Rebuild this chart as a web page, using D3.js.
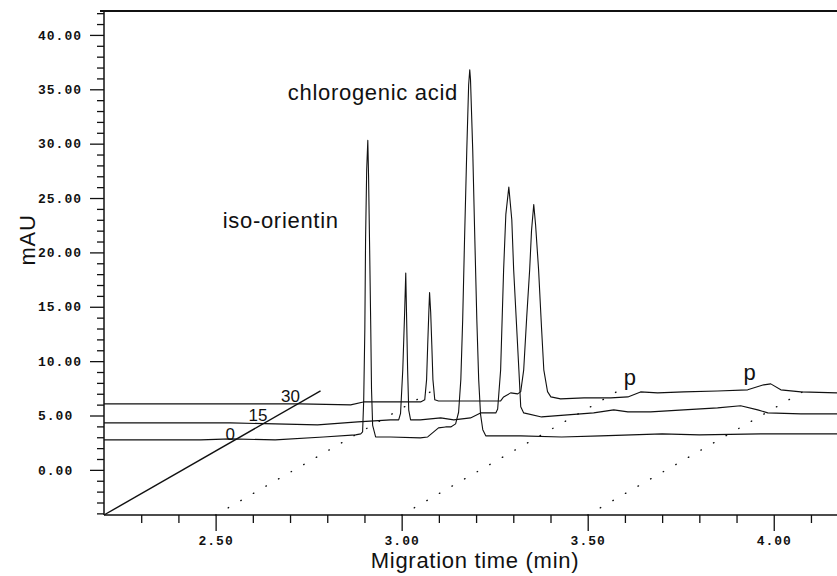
<!DOCTYPE html>
<html>
<head>
<meta charset="utf-8">
<script src="https://cdn.jsdelivr.net/npm/d3@7"></script>
<style>
  body { margin: 0; background: #fff; }
  svg { display: block; }
  .tick text { font-family: "Liberation Mono", "DejaVu Sans Mono", monospace; font-weight: bold; font-size: 13px; letter-spacing: 1px; fill: #111; }
  .tick line { stroke: #111; stroke-width: 1.3; }
  .lbl { font-family: "Liberation Sans", Arial, sans-serif; font-size: 22px; letter-spacing: 0.7px; fill: #111; }
</style>
</head>
<body>
<svg id="chart" width="837" height="576"></svg>
<script>
// axis values
const timeTicks = [2.5, 3.0, 3.5, 4.0];
const mauTicks = [0, 5, 10, 15, 20, 25, 30, 35, 40];
const depthLevels = [0, 15, 30];
const gridTimes = [2.5, 3.0, 3.5];   // dotted oblique grid lines

// electropherograms [time (min), mAU]
const trace0 = [
  [2.20, 2.76], [2.33, 2.76], [2.46, 2.76], [2.54, 2.85], [2.66, 2.76], [2.79, 3.03],
  [2.876, 3.22], [2.890, 3.31], [2.895, 3.49], [2.898, 6.4], [2.901, 12.9], [2.903, 21.2],
  [2.906, 27.6], [2.909, 30.3], [2.911, 27.1], [2.914, 20.2], [2.917, 12.9], [2.919, 7.4],
  [2.922, 4.1], [2.930, 3.03], [2.97, 3.03], [3.05, 2.94], [3.07, 3.03], [3.099, 3.86],
  [3.118, 3.95], [3.132, 3.95], [3.145, 4.23], [3.153, 5.3], [3.159, 8.3], [3.164, 13.8],
  [3.169, 21.2], [3.175, 29.4], [3.180, 35.4], [3.183, 36.8], [3.185, 35.9], [3.191, 29.4],
  [3.196, 22.1], [3.202, 13.8], [3.207, 8.3], [3.212, 5.1], [3.218, 3.7], [3.226, 3.13],
  [3.24, 3.13], [3.32, 3.13], [3.43, 3.03], [3.535, 3.13], [3.70, 3.31], [3.80, 3.22],
  [3.965, 3.31], [4.17, 3.31]
];
const trace15 = [
  [2.20, 4.32], [2.54, 4.32], [2.66, 4.23], [2.774, 4.14], [2.882, 4.41], [2.970, 4.60],
  [2.992, 4.60], [2.997, 5.2], [3.003, 9.2], [3.008, 14.5], [3.011, 18.1], [3.013, 14.5],
  [3.016, 9.2], [3.019, 5.5], [3.024, 4.60], [3.05, 4.60], [3.105, 4.78], [3.14, 4.60],
  [3.185, 4.78], [3.212, 5.24], [3.253, 5.24], [3.258, 5.6], [3.266, 9.2], [3.274, 18.4],
  [3.280, 23.5], [3.288, 26.0], [3.296, 23.0], [3.301, 18.4], [3.315, 9.2], [3.320, 5.8],
  [3.328, 5.24], [3.376, 4.87], [3.446, 5.06], [3.516, 5.24], [3.570, 5.52], [3.608, 5.33],
  [3.669, 5.33], [3.758, 5.52], [3.849, 5.70], [3.911, 5.89], [3.957, 5.52], [3.984, 5.24],
  [4.073, 5.15], [4.17, 5.15]
];
const trace30 = [
  [2.20, 6.07], [2.46, 6.07], [2.728, 6.07], [2.863, 5.98], [2.897, 6.25], [2.970, 6.25],
  [3.051, 6.25], [3.062, 6.44], [3.067, 8.3], [3.070, 11.5], [3.073, 14.5], [3.075, 16.3],
  [3.078, 14.5], [3.081, 11.5], [3.084, 8.3], [3.089, 6.44], [3.099, 6.34], [3.185, 6.34],
  [3.266, 6.34], [3.274, 6.71], [3.293, 7.08], [3.312, 6.99], [3.320, 7.2], [3.328, 9.2],
  [3.336, 14.0], [3.344, 18.4], [3.349, 22.0], [3.355, 24.4], [3.360, 22.5], [3.368, 18.4],
  [3.376, 13.0], [3.382, 9.2], [3.392, 7.2], [3.401, 6.71], [3.427, 6.53], [3.49, 6.62],
  [3.562, 6.62], [3.608, 6.71], [3.642, 7.17], [3.688, 7.08], [3.758, 7.17], [3.849, 7.26],
  [3.930, 7.36], [3.973, 7.82], [3.992, 7.91], [4.019, 7.36], [4.073, 7.17], [4.17, 7.08]
];
const traces = [trace0, trace15, trace30];

// annotations
const peakNames = ["iso-orientin", "chlorogenic acid", "p", "p"];
const peakTimes = [2.519, 2.694, 3.597, 3.919];
const peakLevels = [22.25, 34.0, 7.82, 8.28];

const width = 837, height = 576;
const svg = d3.select("#chart");

const x = d3.scaleLinear().domain([2.2, 4.17]).range([104, 837]);
const y = d3.scaleLinear().domain([-4.15, 42.2]).range([515, 11]);

// oblique (depth) projection: shift in time and mAU per depth
const depthT = d3.scaleLinear().domain([-60, 40]).range([0, 0.582]);
const depthV = d3.scaleLinear().domain([-60, 40]).range([0, 11.41]);
const [t0] = x.domain();
const [v0] = y.domain();

// y axis
const yMinor = d3.range(-4, 43).filter(v => v % 5 !== 0);
svg.append("g").attr("transform", "translate(104,0)")
  .call(d3.axisLeft(y).tickValues(yMinor).tickSize(7).tickFormat(""))
  .call(g => g.select(".domain").remove());
svg.append("g").attr("transform", "translate(104,0)")
  .call(d3.axisLeft(y).tickValues(mauTicks).tickSize(14).tickFormat(d3.format(".2f")))
  .call(g => g.select(".domain").remove())
  .call(g => g.selectAll("text").attr("x", -66).attr("text-anchor", "start"));

// x axis
const xMinor = d3.range(23, 42).map(v => v / 10).filter(v => Math.round(v * 10) % 5 !== 0);
svg.append("g").attr("transform", "translate(0,515)")
  .call(d3.axisBottom(x).tickValues(xMinor).tickSize(8).tickFormat(""))
  .call(g => g.select(".domain").remove());
svg.append("g").attr("transform", "translate(0,515)")
  .call(d3.axisBottom(x).tickValues(timeTicks).tickSize(16).tickFormat(d3.format(".2f")))
  .call(g => g.select(".domain").remove())
  .call(g => g.selectAll("text").attr("y", 30).attr("dy", 0));

// frame
svg.append("line").attr("x1", 100).attr("x2", width).attr("y1", 11).attr("y2", 11)
  .attr("stroke", "#111").attr("stroke-width", 2.2);
svg.append("line").attr("x1", 104).attr("x2", 104).attr("y1", 11).attr("y2", 515)
  .attr("stroke", "#111").attr("stroke-width", 1.5);
svg.append("line").attr("x1", 104).attr("x2", width).attr("y1", 515).attr("y2", 515)
  .attr("stroke", "#111").attr("stroke-width", 1.6);

// dotted oblique grid lines
const [dLo, dHi] = depthT.domain();
svg.selectAll(".grid").data(gridTimes).join("line")
  .attr("class", "grid")
  .attr("x1", t => x(t + depthT(dLo))).attr("y1", y(v0 + depthV(dLo)))
  .attr("x2", t => x(t + depthT(dHi))).attr("y2", y(v0 + depthV(dHi)))
  .attr("stroke", "#111").attr("stroke-width", 1.4)
  .attr("stroke-linecap", "round").attr("stroke-dasharray", "0.5,14");

// depth axis
svg.append("line")
  .attr("x1", x(t0 + depthT(dLo))).attr("y1", y(v0 + depthV(dLo)))
  .attr("x2", x(t0 + depthT(dHi))).attr("y2", y(v0 + depthV(dHi)))
  .attr("stroke", "#111").attr("stroke-width", 1.4);
svg.selectAll(".dlbl").data(depthLevels).join("text")
  .attr("class", "lbl dlbl")
  .attr("x", d => x(t0 + depthT(d)) + 1)
  .attr("y", d => y(v0 + depthV(d)) - 1)
  .attr("text-anchor", "end")
  .style("font-size", "17px").style("letter-spacing", "0px")
  .text(d => d);

// traces
const line = d3.line().x(d => x(d[0])).y(d => y(d[1]));
svg.selectAll(".trace").data(traces).join("path")
  .attr("class", "trace")
  .attr("d", line)
  .attr("fill", "none").attr("stroke", "#111").attr("stroke-width", 1.1)
  .attr("stroke-linejoin", "round");

// peak labels
svg.selectAll(".plbl").data(peakNames).join("text")
  .attr("class", "lbl plbl")
  .attr("x", (d, i) => x(peakTimes[i]))
  .attr("y", (d, i) => y(peakLevels[i]))
  .text(d => d);

// axis titles
svg.append("text").attr("class", "lbl")
  .attr("x", 475).attr("y", 568).attr("text-anchor", "middle")
  .text("Migration time (min)");
svg.append("text").attr("class", "lbl")
  .attr("transform", "translate(35,240) rotate(-90)")
  .attr("text-anchor", "middle")
  .text("mAU");
</script>
</body>
</html>
